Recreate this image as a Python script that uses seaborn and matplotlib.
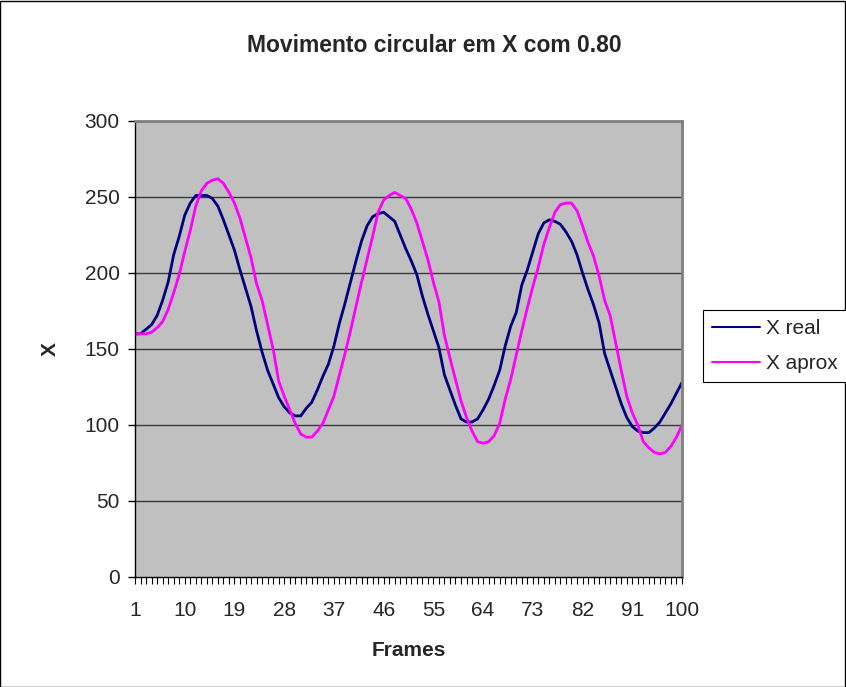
import numpy as np
import pandas as pd
import matplotlib
matplotlib.use("Agg")
import matplotlib.pyplot as plt
from matplotlib.patches import Rectangle
from matplotlib.ticker import MultipleLocator, FixedLocator
import seaborn as sns

frames = list(range(1, 101))

x_real = [
    160, 160, 163, 166, 172, 182, 194, 212, 224, 238,
    246, 251, 251, 251, 249, 244, 235, 225, 215, 202,
    190, 178, 162, 148, 136, 127, 118, 112, 108, 106,
    106, 111, 115, 123, 132, 140, 152, 167, 180, 194,
    208, 221, 231, 237, 239, 240, 237, 234, 225, 216,
    208, 199, 185, 173, 162, 151, 133, 123, 113, 104,
    102, 102, 104, 110, 117, 126, 136, 152, 165, 174,
    192, 202, 214, 226, 233, 235, 234, 232, 227, 221,
    212, 200, 189, 179, 167, 147, 136, 125, 114, 105,
    99, 96, 95, 95, 98, 102, 108, 114, 121, 128,
]

x_aprox = [
    160, 160, 160, 161, 164, 168, 176, 187, 199, 214,
    228, 244, 254, 259, 261, 262, 259, 253, 246, 236,
    223, 210, 193, 182, 166, 150, 129, 119, 110, 101,
    94, 92, 92, 96, 101, 110, 119, 133, 147, 162,
    178, 194, 209, 224, 240, 248, 251, 253, 251, 249,
    242, 233, 221, 209, 194, 181, 159, 144, 130, 116,
    105, 96, 89, 88, 89, 93, 101, 117, 130, 146,
    162, 177, 191, 204, 219, 230, 240, 245, 246, 246,
    241, 231, 220, 211, 198, 182, 172, 154, 136, 119,
    108, 100, 89, 85, 82, 81, 82, 86, 92, 100,
]

series_names = ["X real", "X aprox"]
series_colors = ["#000080", "#FF00FF"]
x_tick_labels = [1, 10, 19, 28, 37, 46, 55, 64, 73, 82, 91, 100]

df = pd.DataFrame({
    "Frames": frames * 2,
    "X": x_real + x_aprox,
    "Serie": [series_names[0]] * len(frames) + [series_names[1]] * len(frames),
})

sns.set_theme(style="white")
plt.rcParams["font.family"] = ["Liberation Sans", "DejaVu Sans"]

fig = plt.figure(figsize=(8.46, 6.87), dpi=100)
fig.patch.set_facecolor("white")
ax = fig.add_axes([135 / 846, 1 - 577 / 687, (682 - 135) / 846, (577 - 121) / 687])
ax.set_facecolor("#C0C0C0")

sns.lineplot(data=df, x="Frames", y="X", hue="Serie", palette=series_colors,
             hue_order=series_names, linewidth=2.0, ax=ax, legend=False)

ax.set_xlim(1, 100)
ax.set_ylim(0, 300)
ax.yaxis.set_major_locator(MultipleLocator(50))
ax.xaxis.set_major_locator(FixedLocator(x_tick_labels))
ax.xaxis.set_minor_locator(MultipleLocator(1))
ax.set_xticklabels([str(v) for v in x_tick_labels])

for y in range(50, 301, 50):
    ax.axhline(y, color="#3a3a3a", linewidth=1.0, zorder=0.5)

for side in ["top", "right"]:
    ax.spines[side].set_color("#808080")
    ax.spines[side].set_linewidth(2.0)
for side in ["left", "bottom"]:
    ax.spines[side].set_color("black")
    ax.spines[side].set_linewidth(1.0)

ax.tick_params(axis="y", which="major", direction="out", length=5, width=1,
               color="black", labelsize=15, pad=6, left=True)
ax.tick_params(axis="x", which="both", direction="out", length=5, width=0.8,
               color="black", labelsize=15, pad=12, bottom=True)

ax.set_xlabel("Frames", fontsize=15, fontweight="bold")
ax.set_ylabel("X", fontsize=15, fontweight="bold")
ax.xaxis.set_label_coords(0.5, (577 - 651) / 456, transform=ax.transAxes)
ax.yaxis.set_label_coords((50 - 135) / 547, 0.5, transform=ax.transAxes)
ax.xaxis.label.set_va("center")
ax.yaxis.label.set_va("center")

fig.text(434 / 846, 1 - 46 / 687, "Movimento circular em X com 0.80",
         ha="center", va="center", fontsize=16.5, fontweight="bold")

handles = [plt.Line2D([], [], color=c, linewidth=1.5) for c in series_colors]
leg = fig.legend(handles, series_names, loc="upper left",
                 bbox_to_anchor=(703 / 846, 1 - 310 / 687),
                 frameon=True, fancybox=False, framealpha=1, edgecolor="black",
                 fontsize=15, handlelength=2.3, handletextpad=0.25,
                 borderpad=0.45, labelspacing=0.75, borderaxespad=0)
leg.get_frame().set_linewidth(0.8)

fig.add_artist(Rectangle((0.0005, 0.0005), 0.998, 0.998, transform=fig.transFigure,
                         fill=False, edgecolor="black", linewidth=1.0))

fig.savefig("out.png", dpi=100, facecolor="white")
